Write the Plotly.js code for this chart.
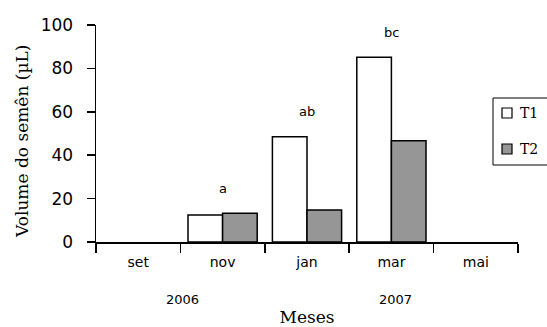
<!DOCTYPE html>
<html>
<head>
<meta charset="utf-8">
<script src="https://cdn.plot.ly/plotly-3.0.1.min.js"></script>
<style>html,body{margin:0;padding:0;background:#fff;}#chart{width:547px;height:327px;}</style>
</head>
<body>
<div id="chart"></div>
<script>
var months = ['set', 'nov', 'jan', 'mar', 'mai'];
var t1Values = [null, 12.4, 48.5, 85.1, null];
var t2Values = [null, 13.2, 14.7, 46.7, null];
var seriesNames = ['T1', 'T2'];
var seriesColors = ['#ffffff', '#969696'];
var sigLabels = ['', 'a', 'ab', 'bc', ''];
var years = ['2006', '2007'];
var yearCategoryIndex = [0.53, 3.05];
var yTicks = [0, 20, 40, 60, 80, 100];
var xTitle = 'Meses';
var yTitle = 'Volume do semên (µL)';

var sansFont = 'DejaVu Sans, Arial, sans-serif';
var serifFont = 'DejaVu Serif, Liberation Serif, serif';

var M = {l: 96, r: 29, t: 25, b: 85};
var W = 547, H = 327;
function px2x(px) { return (px - M.l) / (W - M.l - M.r); }
function py2y(py) { return (H - M.b - py) / (H - M.t - M.b); }

var seriesData = [t1Values, t2Values];
var traces = seriesNames.map(function (n, i) {
  return {type: 'bar', name: n, x: months, y: seriesData[i], showlegend: false,
    marker: {color: seriesColors[i], line: {color: '#000000', width: 1.5}}};
});

var annotations = [];
var shapes = [];
months.forEach(function (m, i) {
  if (!sigLabels[i]) return;
  annotations.push({x: m, y: Math.max(t1Values[i] || 0, t2Values[i] || 0), xref: 'x', yref: 'y',
    text: sigLabels[i], showarrow: false, yanchor: 'middle', yshift: 25,
    font: {family: sansFont, size: 13, color: '#000'}});
});
years.forEach(function (yr, i) {
  annotations.push({x: yearCategoryIndex[i], y: 0, xref: 'x', yref: 'y',
    text: yr, showarrow: false, yanchor: 'middle', yshift: -57,
    font: {family: sansFont, size: 13, color: '#000'}});
});

// y-axis title (placed as in the reference, slightly below the plot centre)
annotations.push({xref: 'paper', yref: 'paper', x: px2x(22), y: py2y(142),
  xanchor: 'center', yanchor: 'middle', textangle: -90, showarrow: false,
  text: yTitle, font: {family: serifFont, size: 17, color: '#000'}});

// legend (box cut off by the right edge, as in the reference)
shapes.push({type: 'rect', xref: 'paper', yref: 'paper',
  x0: px2x(493), x1: px2x(560), y0: py2y(165), y1: py2y(98),
  line: {color: '#000', width: 1}, fillcolor: '#fff'});
var legendRowY = [113, 149];
seriesNames.forEach(function (n, i) {
  var cy = legendRowY[i];
  shapes.push({type: 'rect', xref: 'paper', yref: 'paper',
    x0: px2x(502), x1: px2x(512), y0: py2y(cy + 5), y1: py2y(cy - 5),
    line: {color: '#000', width: 1.2}, fillcolor: seriesColors[i]});
  annotations.push({xref: 'paper', yref: 'paper', x: px2x(518), y: py2y(cy),
    xanchor: 'left', yanchor: 'middle', showarrow: false, text: n,
    font: {family: serifFont, size: 14, color: '#000'}});
});

var layout = {
  width: W, height: H,
  margin: M,
  paper_bgcolor: '#fff', plot_bgcolor: '#fff',
  barmode: 'group', bargap: 0.18, bargroupgap: 0,
  showlegend: false,
  xaxis: {
    type: 'category', categoryarray: months, tickson: 'boundaries',
    showline: true, linecolor: '#000', linewidth: 1.5,
    ticks: 'outside', ticklen: 9, tickcolor: '#000', tickwidth: 1.5,
    ticklabelstandoff: 7,
    showgrid: false, zeroline: false, automargin: false,
    tickfont: {family: sansFont, size: 14, color: '#000'},
    range: [-0.5, 4.5],
    title: {text: xTitle, font: {family: serifFont, size: 17, color: '#000'}, standoff: 50}
  },
  yaxis: {
    range: [0, 100], tickvals: yTicks, ticktext: yTicks.map(String),
    showline: true, linecolor: '#000', linewidth: 1.5,
    ticks: 'outside', ticklen: 8, tickcolor: '#000', tickwidth: 1.5,
    ticklabelstandoff: 10,
    showgrid: false, zeroline: false, automargin: false,
    tickfont: {family: sansFont, size: 17, color: '#000'}
  },
  annotations: annotations,
  shapes: shapes
};

Plotly.newPlot('chart', traces, layout, {displayModeBar: false, staticPlot: true});
</script>
</body>
</html>
